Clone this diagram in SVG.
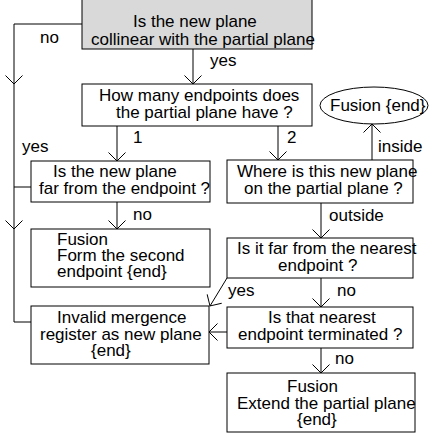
<svg xmlns="http://www.w3.org/2000/svg" width="429" height="436" viewBox="0 0 429 436">
<defs>
<marker id="arr" markerUnits="userSpaceOnUse" markerWidth="20" markerHeight="20" refX="0" refY="0" orient="auto" overflow="visible">
<path d="M-8.5,-8.5 L0,0 L-8.5,8.5" fill="none" stroke="#000" stroke-width="1"/>
</marker>
</defs>
<style>
rect,ellipse{fill:#fff;stroke:#000;stroke-width:1}
.gray{fill:#d9d9d9}
text{font-family:"Liberation Sans",Arial,sans-serif;font-size:17px;fill:#000}
.c line,.c path,.c polyline{fill:none;stroke:#000;stroke-width:1}
</style>
<g class="c" id="connectors">
<polyline points="82,24 14,24 14,322 31,322"/>
<path d="M5.5,75.5 L14,84 L22.5,75.5"/>
<path d="M5.5,220.5 L14,229 L22.5,220.5"/>
<line x1="14" y1="187" x2="31" y2="187"/>
<line x1="193" y1="49" x2="193" y2="84" marker-end="url(#arr)"/>
<line x1="117" y1="126" x2="117" y2="161" marker-end="url(#arr)"/>
<line x1="278" y1="126" x2="278" y2="160" marker-end="url(#arr)"/>
<line x1="117" y1="202" x2="117" y2="229" marker-end="url(#arr)"/>
<line x1="372" y1="160" x2="372" y2="124" marker-end="url(#arr)"/>
<line x1="321" y1="203" x2="321" y2="238" marker-end="url(#arr)"/>
<line x1="321" y1="278" x2="321" y2="307" marker-end="url(#arr)"/>
<line x1="227" y1="278" x2="210" y2="306" marker-end="url(#arr)"/>
<line x1="227" y1="332" x2="209" y2="332" marker-end="url(#arr)"/>
<line x1="321" y1="348" x2="321" y2="373" marker-end="url(#arr)"/>
<text x="40" y="43">no</text>
<text x="210" y="66">yes</text>
<text x="133" y="143">1</text>
<text x="287" y="143">2</text>
<text x="22" y="152">yes</text>
<text x="378" y="152">inside</text>
<text x="133" y="220">no</text>
<text x="329" y="221">outside</text>
<text x="228" y="296">yes</text>
<text x="337" y="296">no</text>
<text x="335" y="364">no</text>
</g>
<g id="n1"><rect class="gray" x="82" y="-1" width="230" height="50"/>
<text x="133" y="27">Is the new plane</text><text x="91" y="45">collinear with the partial plane</text></g>
<g id="n2"><rect x="82" y="84" width="230" height="42"/>
<text x="99" y="101">How many endpoints does</text><text x="116" y="118">the partial plane have ?</text></g>
<g id="n3"><ellipse cx="374" cy="105.5" rx="54" ry="18.5"/>
<text x="330" y="111">Fusion {end}</text></g>
<g id="n4"><rect x="31" y="161" width="179" height="41"/>
<text x="53" y="177">Is the new plane</text><text x="39" y="194">far from the endpoint ?</text></g>
<g id="n5"><rect x="227" y="160" width="186" height="43"/>
<text x="237" y="177">Where is this new plane</text><text x="244" y="194">on the partial plane ?</text></g>
<g id="n6"><rect x="31" y="229" width="179" height="58"/>
<text x="57" y="245">Fusion</text><text x="57" y="261">Form the second</text><text x="57" y="277">endpoint {end}</text></g>
<g id="n7"><rect x="227" y="238" width="186" height="40"/>
<text x="237" y="254">Is it far from the nearest</text><text x="278" y="271">endpoint ?</text></g>
<g id="n8"><rect x="31" y="306" width="178" height="58"/>
<text x="57" y="323">Invalid mergence</text><text x="40" y="340">register as new plane</text><text x="91" y="356">{end}</text></g>
<g id="n9"><rect x="227" y="307" width="186" height="41"/>
<text x="268" y="323">Is that nearest</text><text x="238" y="340">endpoint terminated ?</text></g>
<g id="n10"><rect x="227" y="373" width="188" height="59"/>
<text x="287" y="392">Fusion</text><text x="237" y="409">Extend the partial plane</text><text x="297" y="425">{end}</text></g>
</svg>
